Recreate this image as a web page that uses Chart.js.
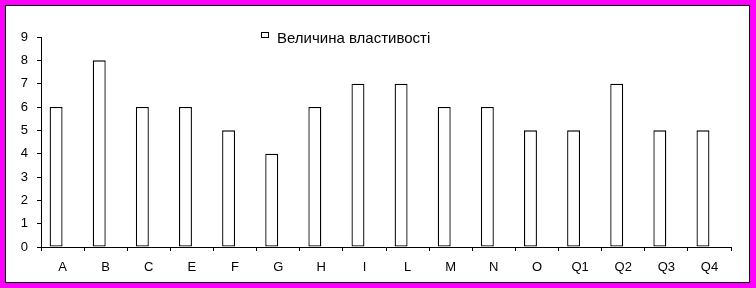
<!DOCTYPE html>
<html lang="uk">
<head>
    <meta charset="UTF-8">
    <title>Величина властивості</title>
    <script src="https://cdn.jsdelivr.net/npm/chart.js"></script>
    <style>
        body { margin: 0; background: #fff; }
        canvas { display: block; }
    </style>
</head>
<body>
    <canvas id="chartCanva" width="756" height="288"></canvas>

    <script>
        // Dane wykresu
        const categories = ['A', 'B', 'C', 'E', 'F', 'G', 'H', 'I', 'L', 'M', 'N', 'O', 'Q1', 'Q2', 'Q3', 'Q4'];
        const values = [6, 8, 6, 6, 5, 4, 6, 7, 7, 6, 6, 5, 5, 7, 5, 5];
        const seriesLabel = 'Величина властивості';
        const yTicks = [0, 1, 2, 3, 4, 5, 6, 7, 8, 9];

        const fontFamily = '"Liberation Sans", Arial, sans-serif';
        const font = { family: fontFamily, size: 13 };

        // Ramka (magenta + czarna linia)
        const framePlugin = {
            id: 'frame',
            beforeDraw(chart) {
                const ctx = chart.ctx;
                ctx.save();
                ctx.fillStyle = '#ff00ff';
                ctx.fillRect(0, 0, chart.width, chart.height);
                ctx.fillStyle = '#ffffff';
                ctx.fillRect(5, 5, 745, 278);
                ctx.strokeStyle = '#000';
                ctx.lineWidth = 1;
                ctx.strokeRect(5.5, 5.5, 744, 277);
                ctx.restore();
            }
        };

        // Legenda rysowana w środku wykresu
        const legendPlugin = {
            id: 'innerLegend',
            afterDraw(chart) {
                const ctx = chart.ctx;
                ctx.save();
                ctx.fillStyle = '#fff';
                ctx.strokeStyle = '#000';
                ctx.lineWidth = 1;
                ctx.fillRect(261.5, 32.5, 7, 5);
                ctx.strokeRect(261.5, 32.5, 7, 5);
                ctx.fillStyle = '#000';
                ctx.font = '15px ' + fontFamily;
                ctx.textBaseline = 'alphabetic';
                ctx.fillText(chart.data.datasets[0].label, 277, 43);
                ctx.restore();
            }
        };

        const ctx = document.getElementById('chartCanva').getContext('2d');

        const chart = new Chart(ctx, {
            type: 'bar',
            data: {
                labels: categories,
                datasets: [
                    {
                        label: seriesLabel,
                        data: values,
                        backgroundColor: '#ffffff',
                        borderColor: '#000000',
                        borderWidth: 1.3,
                        borderSkipped: false
                    },
                    {
                        label: '',
                        data: [],
                        backgroundColor: '#ffffff',
                        borderColor: '#000000',
                        borderWidth: 0
                    }
                ]
            },
            options: {
                responsive: false,
                animation: false,
                devicePixelRatio: 1,
                layout: { padding: { left: 0, top: 37, right: 25, bottom: 0 } },
                plugins: {
                    legend: { display: false },
                    tooltip: { enabled: false }
                },
                datasets: {
                    bar: { categoryPercentage: 0.6, barPercentage: 1 }
                },
                scales: {
                    x: {
                        grid: {
                            display: true,
                            offset: true,
                            drawOnChartArea: false,
                            tickLength: 4,
                            color: '#000'
                        },
                        border: { color: '#000', width: 1 },
                        ticks: { color: '#000', font: font, padding: 9, maxRotation: 0, autoSkip: false },
                        afterFit(scale) { scale.height = 41; }
                    },
                    y: {
                        min: 0,
                        max: 9,
                        afterBuildTicks(scale) { scale.ticks = yTicks.map(v => ({ value: v })); },
                        grid: {
                            display: true,
                            drawOnChartArea: false,
                            tickLength: 4,
                            color: '#000'
                        },
                        border: { color: '#000', width: 1 },
                        ticks: { color: '#000', font: font, padding: 9 },
                        afterFit(scale) { scale.width = 41; }
                    }
                }
            },
            plugins: [framePlugin, legendPlugin]
        });
    </script>
</body>
</html>
